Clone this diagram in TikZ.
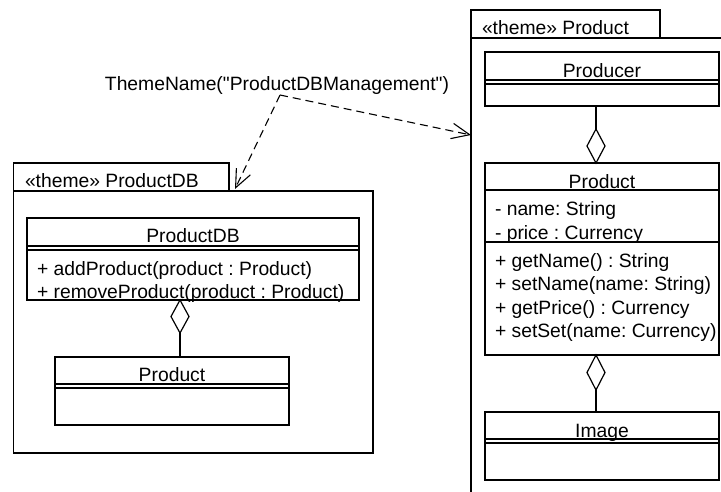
\documentclass[tikz,border=0pt]{standalone}
\usepackage{fontspec}
\setmainfont{Liberation Sans}[Ligatures=TeXOff]
\usetikzlibrary{shapes.geometric,arrows.meta}
\frenchspacing
\begin{document}
\begin{tikzpicture}[x=1pt,y=-1pt,
  umlbox/.style={draw, line width=1.2pt, rectangle, inner sep=0pt, outer sep=0pt, anchor=north west},
  sep/.style={line width=1.2pt},
  txt/.style={inner sep=0pt, outer sep=0pt, font=\fontsize{19.3}{23}\selectfont\frenchspacing},
  agg/.style={diamond, draw, line width=1.2pt, fill=white, inner sep=0pt, outer sep=0pt, minimum width=18pt, minimum height=34pt},
  link/.style={line width=1.2pt},
  dep/.style={line width=1.1pt, dash pattern=on 8pt off 5pt, -{Straight Barb[length=18pt,width=15.5pt]}}
]
\useasboundingbox (0,0) rectangle (721,491);
\clip (0,0) rectangle (721,491);
\fill[white] (0,0) rectangle (721,491);

% left package
\node[umlbox, minimum width=215.5pt, minimum height=28pt] (tabL) at (13.5,163) {};
\node[umlbox, minimum width=359.5pt, minimum height=262pt] (pkgL) at (13.5,191) {};
\node[txt, anchor=base west] (tabLtxt) at (25,187) {«theme» ProductDB};

% ProductDB class
\node[umlbox, minimum width=332pt, minimum height=82pt] (pdb) at (27,218) {};
\draw[sep] (27,246) -- (359,246) (27,250) -- (359,250);
\node[txt, anchor=base] (pdbname) at (193,242.5) {ProductDB};
\node[txt, anchor=base west] (pdbop1) at (37,275) {+ addProduct(product : Product)};
\node[txt, anchor=base west] (pdbop2) at (37,298) {+ removeProduct(product : Product)};

% aggregation left
\node[agg, minimum height=33pt, anchor=north] (dL) at (180,300) {};
\node[umlbox, minimum width=234pt, minimum height=68pt] (prodL) at (55,357) {};
\draw[sep] (55,384) -- (289,384) (55,388) -- (289,388);
\node[txt, anchor=base] (prodLname) at (172,381.5) {Product};
\draw[link] (dL.south) -- (dL.south |- prodL.north);

% right package
\node[umlbox, minimum width=189pt, minimum height=28pt] (tabR) at (471,10) {};
\node[umlbox, minimum width=300pt, minimum height=480pt] (pkgR) at (471,38) {};
\node[txt, anchor=base west] (tabRtxt) at (482,34) {«theme» Product};

% Producer
\node[umlbox, minimum width=234pt, minimum height=54pt] (producer) at (485,52) {};
\draw[sep] (485,80) -- (719,80) (485,84) -- (719,84);
\node[txt, anchor=base] (producername) at (602,77) {Producer};

% Product (right)
\node[umlbox, minimum width=234pt, minimum height=192pt] (prodR) at (485,163) {};
\draw[sep] (485,190) -- (719,190) (485,242) -- (719,242);
\node[txt, anchor=base] (prodRname) at (602,188) {Product};
\node[txt, anchor=base west] (a1) at (495,215) {- name: String};
\node[txt, anchor=base west] (a2) at (495,239) {- price : Currency};
\node[txt, anchor=base west] (o1) at (495,267) {+ getName() : String};
\node[txt, anchor=base west] (o2) at (495,290.5) {+ setName(name: String)};
\node[txt, anchor=base west] (o3) at (495,314) {+ getPrice() : Currency};
\node[txt, anchor=base west] (o4) at (495,337.5) {+ setSet(name: Currency)};

\node[agg, anchor=south] (dR1) at (596,163) {};
\draw[link] (dR1.north |- producer.south) -- (dR1.north);

% Image
\node[umlbox, minimum width=234pt, minimum height=68pt] (image) at (485,412) {};
\draw[sep] (485,439) -- (719,439) (485,443) -- (719,443);
\node[txt, anchor=base] (imagename) at (602,437) {Image};

\node[agg, minimum height=35pt, anchor=north] (dR2) at (596,355) {};
\draw[link] (dR2.south) -- (dR2.south |- image.north);

% theme name dependency
\node[txt, anchor=base] (tn) at (277,90) {ThemeName("ProductDBManagement")};
\coordinate (src) at (280,95);
\coordinate (tipL) at (235,189);
\coordinate (tipR) at (pkgR.west |- 0,135);
\draw[dep] (src) -- (tipL);
\draw[dep] (src) -- (tipR);
\end{tikzpicture}
\end{document}
